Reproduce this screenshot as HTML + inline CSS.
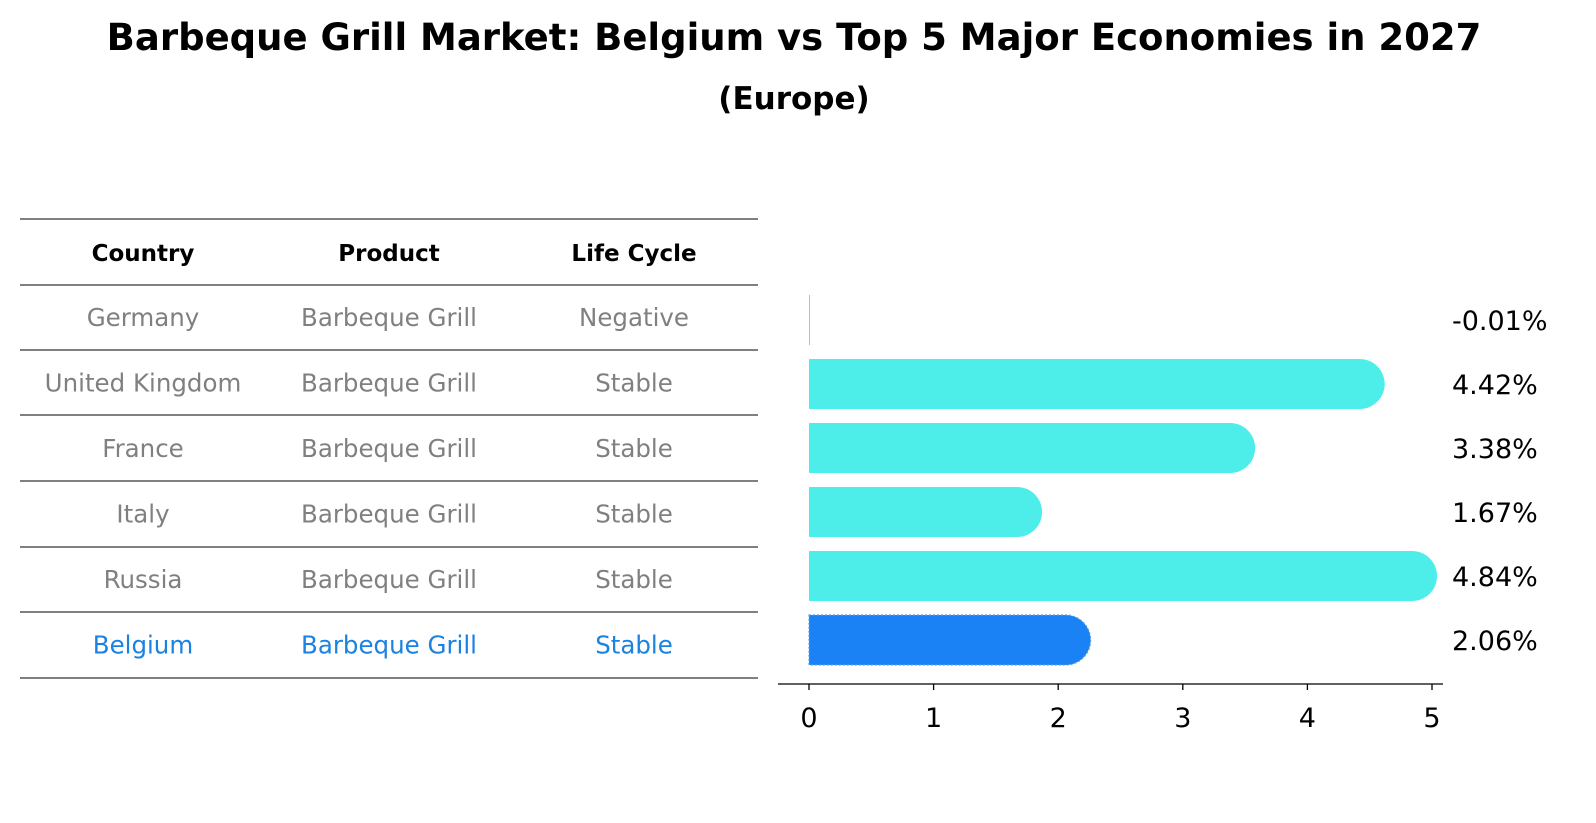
<!DOCTYPE html>
<html><head><meta charset="utf-8">
<style>
html,body{margin:0;padding:0;background:#fff;overflow:hidden;font-family:"DejaVu Sans","Liberation Sans",sans-serif;}
#wrap{position:relative;width:1596px;height:823px;overflow:hidden;}
svg{display:block;}
</style></head>
<body>
<div id="wrap">
<svg id="svg" width="1596" height="823" xmlns="http://www.w3.org/2000/svg" font-family="DejaVu Sans, Liberation Sans, sans-serif">
<text x="794" y="50" text-anchor="middle" font-size="37" font-weight="bold">Barbeque Grill Market: Belgium vs Top 5 Major Economies in 2027</text>
<text x="794" y="109" text-anchor="middle" font-size="31" font-weight="bold">(Europe)</text>
<g id="table"></g>
<g id="bars"></g>
<g id="axis"></g>
</svg>
</div>
<script>
const countries=["Germany","United Kingdom","France","Italy","Russia","Belgium"];
const products=["Barbeque Grill","Barbeque Grill","Barbeque Grill","Barbeque Grill","Barbeque Grill","Barbeque Grill"];
const lifeCycles=["Negative","Stable","Stable","Stable","Stable","Stable"];
const growthValues=[-0.01,4.42,3.38,1.67,4.84,2.06];
const valueLabels=["-0.01%","4.42%","3.38%","1.67%","4.84%","2.06%"];
const xTicks=[0,1,2,3,4,5];

const NS="http://www.w3.org/2000/svg";
function mk(tag,attrs,parent){const e=document.createElementNS(NS,tag);for(const k in attrs)e.setAttribute(k,attrs[k]);parent.appendChild(e);return e;}
const xScale=v=>809+v*124.6;
const table=document.getElementById('table');
const lineYs=[219,285,350,415,481,547,612,678];
lineYs.forEach((y,i)=>{const l=mk('line',{x1:20,x2:758,y1:y,y2:y,stroke:'#000','stroke-width':1},table);

});
const colX=[143,389,634];
["Country","Product","Life Cycle"].forEach((h,j)=>{const t=mk('text',{x:colX[j],y:261,'text-anchor':'middle','font-size':23,'font-weight':'bold'},table);t.textContent=h;

});
countries.forEach((c,i)=>{
 const y=326+i*65.5;
 const col=c==="Belgium"?"#1a82e0":"#808080";
 [c,products[i],lifeCycles[i]].forEach((v,j)=>{const t=mk('text',{x:colX[j],y:y,'text-anchor':'middle','font-size':24.5,fill:col},table);t.textContent=v;
 
 });
});
const bars=document.getElementById('bars');
const r=25;
growthValues.forEach((v,i)=>{
 const cy=320+i*64;
 const top=cy-r,bot=cy+r;
 const x0=xScale(0),x1=xScale(v);
 const isB=countries[i]==="Belgium";
 const fill=isB?"#1a82f5":"#4deeea";
 let el;
 if(Math.abs(x1-x0)<r){
  el=mk('rect',{x:x0,y:top,width:1,height:2*r,fill:fill},bars);
 }else{
  el=mk('path',{d:`M${x0},${top} L${x1},${top} A${r},${r} 0 0 1 ${x1},${bot} L${x0},${bot} Z`,fill:fill},bars);
  if(isB){el.setAttribute('stroke','#5aa0e0');el.setAttribute('stroke-dasharray','2,2');el.setAttribute('stroke-width','1.2');}
 }
 
 
 const t=mk('text',{x:1452,y:cy+10,'font-size':27},bars);t.textContent=valueLabels[i];
 
 
});
const axis=document.getElementById('axis');
const al=mk('line',{x1:778,x2:1443,y1:684,y2:684,stroke:'#000','stroke-width':1.3},axis);


xTicks.forEach(v=>{
 const x=xScale(v);
 const tk=mk('line',{x1:x,x2:x,y1:684,y2:690,stroke:'#000','stroke-width':1.3},axis);
 
 
 const t=mk('text',{x:x,y:727,'text-anchor':'middle','font-size':27},axis);t.textContent=v;
 
 
});
</script>
</body></html>
